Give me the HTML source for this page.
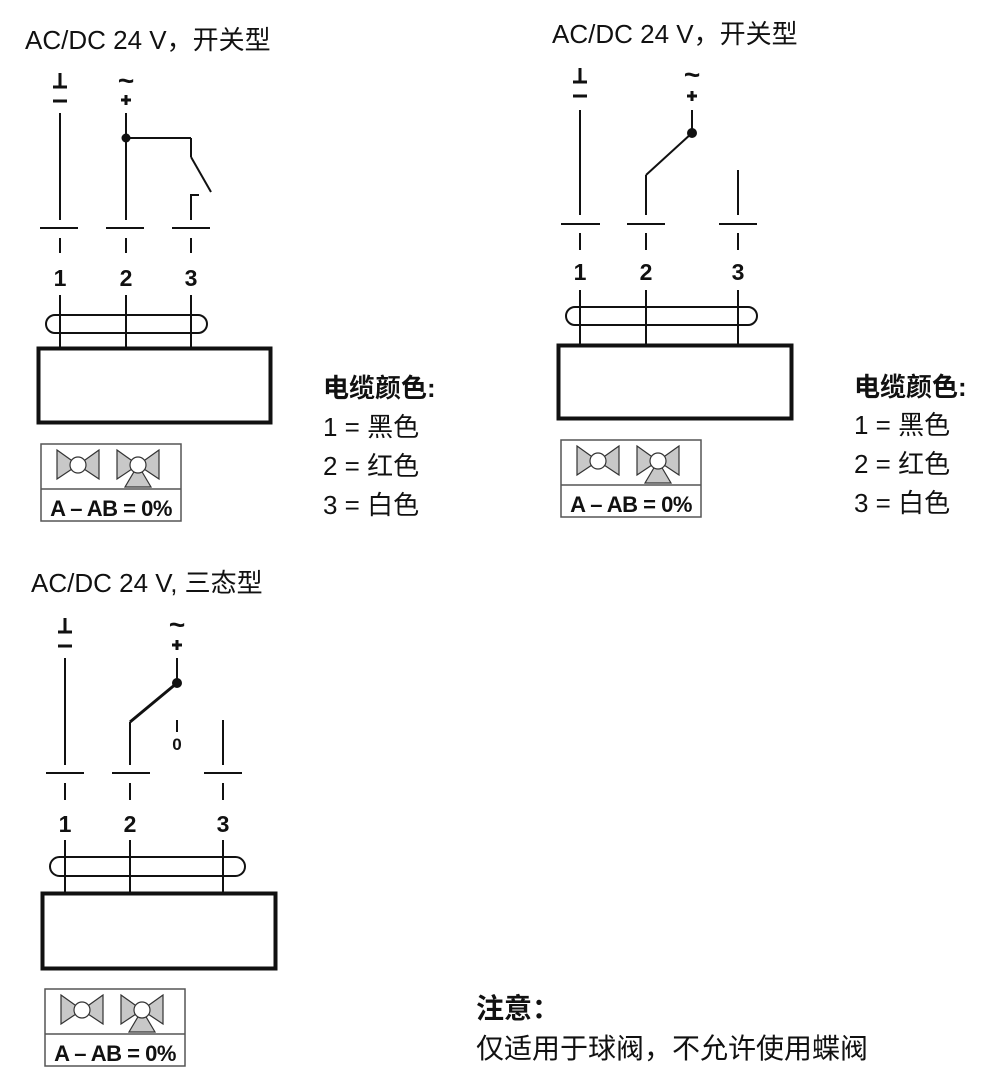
<!DOCTYPE html>
<html><head><meta charset="utf-8"><style>
html,body{margin:0;padding:0;background:#fff;}
svg{display:block;}
.t{font-family:"Liberation Sans","Noto Sans CJK SC",sans-serif;fill:#111;}
</style></head><body>
<svg width="1000" height="1084" viewBox="0 0 1000 1084" xmlns="http://www.w3.org/2000/svg">
<defs>
<g id="leg">
<rect x="0" y="0" width="140" height="77" fill="#fff" stroke="#555" stroke-width="1.5"/>
<line x1="0" y1="45" x2="140" y2="45" stroke="#555" stroke-width="1.5"/>
<polygon points="16,6 37,21 16,35" fill="#c8c8c8" stroke="#333" stroke-width="1.2"/>
<polygon points="58,6 37,21 58,35" fill="#c8c8c8" stroke="#333" stroke-width="1.2"/>
<circle cx="37" cy="21" r="8" fill="#fff" stroke="#333" stroke-width="1.2"/>
<polygon points="76,6 97,21 76,35" fill="#c8c8c8" stroke="#333" stroke-width="1.2"/>
<polygon points="118,6 97,21 118,35" fill="#c8c8c8" stroke="#333" stroke-width="1.2"/>
<polygon points="97,21 84,43 110,43" fill="#c8c8c8" stroke="#333" stroke-width="1.2"/>
<circle cx="97" cy="21" r="8" fill="#fff" stroke="#333" stroke-width="1.2"/>
<text x="70" y="72" text-anchor="middle" class="t" font-weight="bold" font-size="22" letter-spacing="-0.5">A – AB = 0%</text>
</g>
<g id="gnd" stroke="#111" stroke-width="3" fill="none">
<line x1="0" y1="-14" x2="0" y2="0"/><line x1="-7" y1="0" x2="7" y2="0"/><line x1="-7" y1="14" x2="7" y2="14"/>
</g>
<g id="pls" stroke="#111" stroke-width="3" fill="none">
<line x1="-5" y1="0" x2="5" y2="0"/><line x1="0" y1="-5" x2="0" y2="5"/>
</g>
</defs>
<g stroke="#111" stroke-width="2" fill="none">
<line x1="60" y1="113" x2="60" y2="220"/>
<line x1="126" y1="113" x2="126" y2="220"/>
<line x1="126" y1="138" x2="191" y2="138"/>
<line x1="191" y1="138" x2="191" y2="157"/>
<line x1="191" y1="157" x2="211" y2="192"/>
<polyline points="199,195 191,195 191,220"/>
<line x1="40" y1="228" x2="78" y2="228"/>
<line x1="106" y1="228" x2="144" y2="228"/>
<line x1="172" y1="228" x2="210" y2="228"/>
<line x1="60" y1="238" x2="60" y2="253"/>
<line x1="126" y1="238" x2="126" y2="253"/>
<line x1="191" y1="238" x2="191" y2="253"/>
<line x1="60" y1="295" x2="60" y2="348"/>
<line x1="126" y1="295" x2="126" y2="348"/>
<line x1="191" y1="295" x2="191" y2="348"/>
<rect x="46" y="315" width="161" height="18" rx="9"/>
<rect x="38.5" y="348.5" width="232" height="74" stroke-width="4"/>
<line x1="580" y1="110" x2="580" y2="215"/>
<line x1="692" y1="110" x2="692" y2="133"/>
<line x1="692" y1="133" x2="646" y2="175"/>
<line x1="646" y1="175" x2="646" y2="215"/>
<line x1="738" y1="170" x2="738" y2="215"/>
<line x1="561" y1="224" x2="600" y2="224"/>
<line x1="627" y1="224" x2="665" y2="224"/>
<line x1="719" y1="224" x2="757" y2="224"/>
<line x1="580" y1="233" x2="580" y2="250"/>
<line x1="646" y1="233" x2="646" y2="250"/>
<line x1="738" y1="233" x2="738" y2="250"/>
<line x1="580" y1="290" x2="580" y2="345"/>
<line x1="646" y1="290" x2="646" y2="345"/>
<line x1="738" y1="290" x2="738" y2="345"/>
<rect x="566" y="307" width="191" height="18" rx="9"/>
<rect x="558.5" y="345.5" width="233" height="73" stroke-width="4"/>
<line x1="65" y1="658" x2="65" y2="765"/>
<line x1="177" y1="658" x2="177" y2="683"/>
<line x1="177" y1="683" x2="130" y2="722" stroke-width="3"/>
<line x1="130" y1="722" x2="130" y2="765"/>
<line x1="177" y1="720" x2="177" y2="732"/>
<line x1="223" y1="720" x2="223" y2="765"/>
<line x1="46" y1="773" x2="84" y2="773"/>
<line x1="112" y1="773" x2="150" y2="773"/>
<line x1="204" y1="773" x2="242" y2="773"/>
<line x1="65" y1="783" x2="65" y2="800"/>
<line x1="130" y1="783" x2="130" y2="800"/>
<line x1="223" y1="783" x2="223" y2="800"/>
<line x1="65" y1="840" x2="65" y2="893"/>
<line x1="130" y1="840" x2="130" y2="893"/>
<line x1="223" y1="840" x2="223" y2="893"/>
<rect x="50" y="857" width="195" height="19" rx="9.5"/>
<rect x="42.5" y="893.5" width="233" height="75" stroke-width="4"/>
</g>
<circle cx="126" cy="138" r="4.5" fill="#111"/>
<circle cx="692" cy="133" r="5" fill="#111"/>
<circle cx="177" cy="683" r="5" fill="#111"/>

<use href="#gnd" x="60" y="87"/>
<use href="#pls" x="126" y="100"/>
<use href="#gnd" x="580" y="82"/>
<use href="#pls" x="692" y="96"/>
<use href="#gnd" x="65" y="632"/>
<use href="#pls" x="177" y="645"/>

<g class="t" font-weight="bold" font-size="23" text-anchor="middle">
<text x="60" y="286">1</text><text x="126" y="286">2</text><text x="191" y="286">3</text>
<text x="580" y="280">1</text><text x="646" y="280">2</text><text x="738" y="280">3</text>
<text x="65" y="832">1</text><text x="130" y="832">2</text><text x="223" y="832">3</text>
<text x="177" y="750" font-size="17">0</text>
<text x="126" y="90" font-size="28">~</text>
<text x="692" y="84" font-size="28">~</text>
<text x="177" y="634" font-size="28">~</text>
</g>

<g class="t" font-size="26">
<text x="25" y="49">AC/DC 24 V，开关型</text>
<text x="552" y="43">AC/DC 24 V，开关型</text>
<text x="31" y="592">AC/DC 24 V, 三态型</text>
<text x="323" y="397" font-weight="bold">电缆颜色:</text>
<text x="323" y="436">1 = 黑色</text>
<text x="323" y="475">2 = 红色</text>
<text x="323" y="514">3 = 白色</text>
<text x="854" y="396" font-weight="bold">电缆颜色:</text>
<text x="854" y="434">1 = 黑色</text>
<text x="854" y="473">2 = 红色</text>
<text x="854" y="512">3 = 白色</text>
</g>
<g class="t" font-size="28">
<text x="476" y="1018" font-weight="bold">注意：</text>
<text x="476" y="1058">仅适用于球阀，不允许使用蝶阀</text>
</g>

<use href="#leg" x="41" y="444"/>
<use href="#leg" x="561" y="440"/>
<use href="#leg" x="45" y="989"/>
</svg>
</body></html>
